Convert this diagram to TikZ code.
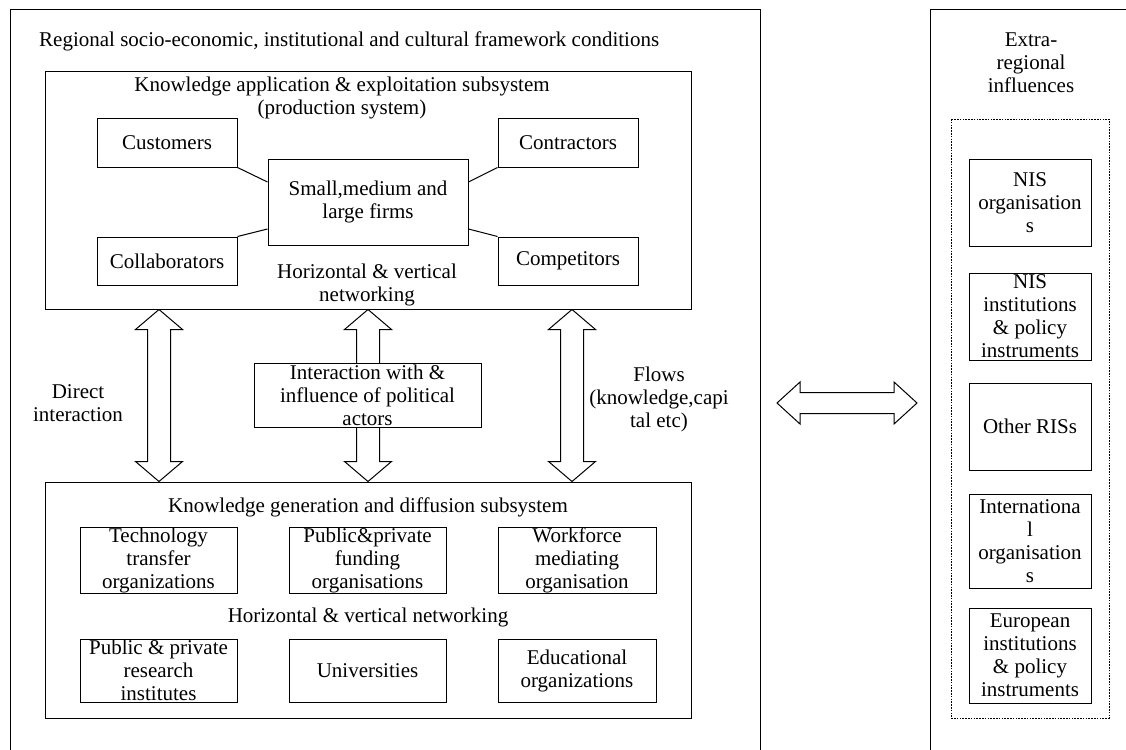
\documentclass[tikz,border=0pt]{standalone}
\usepackage{fontspec}
\setmainfont{Liberation Serif}
\usetikzlibrary{calc}
\tikzset{
    frame/.style={draw,line width=1pt},
    groupframe/.style={draw,line width=0.9pt,dash pattern=on 1.6pt off 1.2pt},
    subsystem/.style={draw,line width=1pt,minimum width=646pt,minimum height=237pt,inner sep=0pt},
    actorbox/.style={draw,line width=1pt,fill=white,align=center,inner sep=0pt,minimum width=140pt,minimum height=48pt},
    orgbox/.style={draw,line width=1pt,fill=white,align=center,inner sep=0pt,minimum width=157pt,minimum height=63pt},
    extbox/.style={draw,line width=1pt,align=center,inner sep=0pt,minimum width=122pt,minimum height=87pt},
    caption/.style={align=center,inner sep=0pt},
    tie/.style={line width=1pt},
    hollowarrow/.style={draw,line width=1pt,fill=white,line join=miter}
}
% hollow two-way arrows (vertical / horizontal)
\newcommand{\vlink}[2]{%
    \draw[hollowarrow] let \p1=(#1), \p2=(#2) in
        (\x1,\y1) -- (\x1+23.5pt,\y1-20pt) -- (\x1+11.5pt,\y1-20pt)
        -- (\x1+11.5pt,\y2+20pt) -- (\x1+23.5pt,\y2+20pt) -- (\x1,\y2)
        -- (\x1-23.5pt,\y2+20pt) -- (\x1-11.5pt,\y2+20pt)
        -- (\x1-11.5pt,\y1-20pt) -- (\x1-23.5pt,\y1-20pt) -- cycle;}
\newcommand{\hlink}[2]{%
    \draw[hollowarrow] let \p1=(#1), \p2=(#2) in
        (\x1,\y1) -- (\x1+23pt,\y1+21pt) -- (\x1+23pt,\y1+10.5pt)
        -- (\x2-23pt,\y1+10.5pt) -- (\x2-23pt,\y1+21pt) -- (\x2,\y1)
        -- (\x2-23pt,\y1-21pt) -- (\x2-23pt,\y1-10.5pt)
        -- (\x1+23pt,\y1-10.5pt) -- (\x1+23pt,\y1-21pt) -- cycle;}

\begin{document}
\begin{tikzpicture}[x=1pt,y=-1pt,font=\fontsize{21}{23}\selectfont]
    \useasboundingbox (0,0) rectangle (1126,749);
    \clip (0,0) rectangle (1126,749);
    % Outer frames
    \draw[frame] (10,9.5) rectangle (760,770);
    \draw[frame] (930,9.5) rectangle (1140,770);
    \node[anchor=base west,inner sep=0pt] (regional) at (39,47) {Regional socio-economic, institutional and cultural framework conditions};
    % Production subsystem
    \node[subsystem] (upper) at (368,190.5) {};
    \node[caption,anchor=north] (uppertitle) at (342,76.5) {Knowledge application \& exploitation subsystem\\(production system)};
    \node[actorbox,minimum width=200pt,minimum height=86pt] (firms) at (368,202) {Small,medium and\\large firms};
    \node[actorbox] (customers) at (167,143) {Customers};
    \node[actorbox] (contractors) at (568,143) {Contractors};
    \node[actorbox] (collaborators) at (167,261) {Collaborators};
    \node[actorbox] (competitors) at (568,261) {Competitors};
    \draw[tie] (customers.south east) -- ([yshift=20pt]firms.west);
    \draw[tie] (collaborators.north east) -- ([yshift=-27pt]firms.west);
    \draw[tie] (contractors.south west) -- ([yshift=20pt]firms.east);
    \draw[tie] (competitors.north west) -- ([yshift=-27pt]firms.east);
    \node[caption,anchor=north] (uppernet) at (367,264) {Horizontal \& vertical\\networking};
    % Generation subsystem
    \node[subsystem,minimum height=236pt] (lower) at (368,600) {};
    \node[caption,anchor=base] (lowertitle) at (368,512) {Knowledge generation and diffusion subsystem};
    \node[orgbox] (transfer) at (158.5,560.5) {Technology\\transfer\\organizations};
    \node[orgbox] (funding) at (367.5,560.5) {Public\&private\\funding\\organisations};
    \node[orgbox,minimum width=158pt] (workforce) at (577,560.5) {Workforce\\mediating\\organisation};
    \node[caption,anchor=base] (lowernet) at (368,622) {Horizontal \& vertical networking};
    \node[orgbox] (research) at (158.5,670.5) {Public \& private\\research\\institutes};
    \node[orgbox] (universities) at (367.5,670.5) {Universities};
    \node[orgbox,minimum width=158pt] (educational) at (577,670.5) {Educational\\organizations};
    % Links between subsystems
    \vlink{$(upper.south)+(-209,0)$}{$(lower.north)+(-209,0)$}
    \vlink{upper.south}{lower.north}
    \vlink{$(upper.south)+(204,0)$}{$(lower.north)+(204,0)$}
    \node[actorbox,minimum width=227pt,minimum height=64pt] (political) at (367.5,395) {Interaction with \&\\influence of political\\actors};
    \node[caption,anchor=north] (direct) at (78,384) {Direct\\interaction};
    \node[caption,anchor=north] (flows) at (659,367) {Flows\\(knowledge,capi\\tal etc)};
    % Extra-regional side
    \coordinate (linkL) at (777,403);
    \coordinate (linkR) at (917,403);
    \hlink{linkL}{linkR}
    \node[caption,anchor=north] (extra) at (1031,33) {Extra-\\regional\\influences};
    \draw[groupframe] (951,119) rectangle (1109,718);
    \node[extbox] (nisorg) at (1030,202.5) {NIS\\organisation\\s};
    \node[extbox] (nisinst) at (1030,316.5) {NIS\\institutions\\\& policy\\instruments};
    \node[extbox] (otherris) at (1030,426.5) {Other RISs};
    \node[extbox,minimum height=94pt] (intorg) at (1030,541) {Internationa\\l\\organisation\\s};
    \node[extbox,minimum height=95pt] (european) at (1030,655.5) {European\\institutions\\\& policy\\instruments};
\end{tikzpicture}
\end{document}
